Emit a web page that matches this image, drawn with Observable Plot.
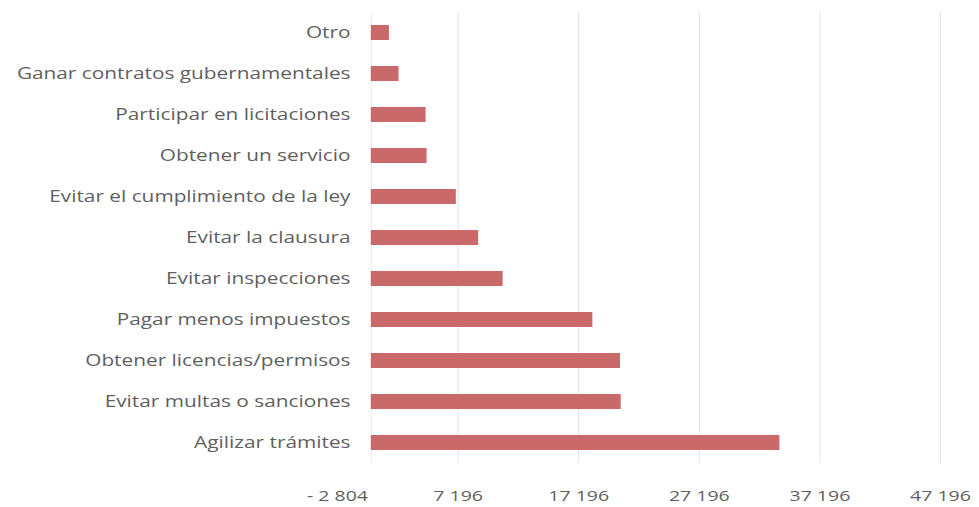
<!DOCTYPE html>
<html>
<head>
<meta charset="utf-8">
<script src="https://cdn.jsdelivr.net/npm/d3@7"></script>
<script src="https://cdn.jsdelivr.net/npm/@observablehq/plot@0.6"></script>
<style>
  html, body { margin: 0; padding: 0; background: #fff; }
  #chart svg { display: block; }
</style>
</head>
<body>
<div id="chart"></div>
<script>
const categories = [
  "Otro",
  "Ganar contratos gubernamentales",
  "Participar en licitaciones",
  "Obtener un servicio",
  "Evitar el cumplimiento de la ley",
  "Evitar la clausura",
  "Evitar inspecciones",
  "Pagar menos impuestos",
  "Obtener licencias/permisos",
  "Evitar multas o sanciones",
  "Agilizar trámites"
];
const values = [1500, 2300, 4540, 4620, 7050, 8900, 10930, 18370, 20660, 20720, 33880];
const xTicks = [-2804, 7196, 17196, 27196, 37196, 47196];

const data = categories.map((c, i) => ({ cat: c, value: values[i] }));
const fmt = n => d3.format(",")(n).replace(/,/g, " ");
const tickFmt = d => d < 0 ? "- " + fmt(-d) : fmt(d);

const chart = Plot.plot({
  width: 979,
  height: 507,
  marginLeft: 337,
  marginRight: 39,
  marginTop: 12,
  marginBottom: 44,
  style: { fontFamily: "'Open Sans', sans-serif", fontSize: "15px", color: "#5f5f5f", background: "#fff" },
  x: { domain: [-2804, 47196], ticks: xTicks, tickFormat: tickFmt },
  y: { domain: categories, paddingInner: 0.63, paddingOuter: 0.315 },
  marks: [
    Plot.gridX(xTicks.slice(1), { stroke: "#e3e3e3", strokeOpacity: 1 }),
    Plot.ruleX([0], { stroke: "#ebebeb" }),
    Plot.barX(data, { x: "value", y: "cat", fill: "#c9696a" }),
    Plot.axisX({ ticks: xTicks, tickFormat: tickFmt, tickSize: 0, tickPadding: 27, label: null, fontSize: 15 }),
    Plot.axisY({ tickSize: 0, tickPadding: -13, label: null, fontSize: 16 })
  ]
});
document.getElementById("chart").appendChild(chart);

// stretch labels horizontally like the reference
d3.select(chart).selectAll("g[aria-label='y-axis tick label'] text, g[aria-label='x-axis tick label'] text").each(function () {
  const l = this.getComputedTextLength();
  this.setAttribute("textLength", l * 1.3);
  this.setAttribute("lengthAdjust", "spacingAndGlyphs");
});
</script>
</body>
</html>
